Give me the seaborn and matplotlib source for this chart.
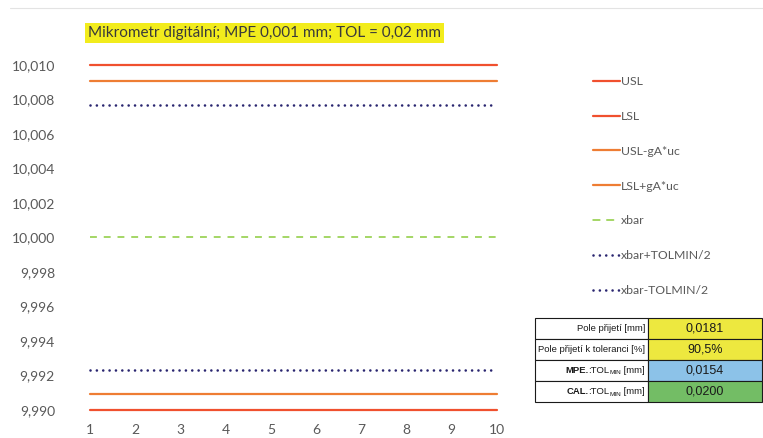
import matplotlib
matplotlib.use("Agg")
import matplotlib.pyplot as plt
from matplotlib.patches import Rectangle
from matplotlib.lines import Line2D
from matplotlib.ticker import FuncFormatter, FixedLocator
import numpy as np
import pandas as pd
import seaborn as sns

# Measurement index
samples = [1, 2, 3, 4, 5, 6, 7, 8, 9, 10]

# Limits and acceptance zone (mm)
usl = [10.010, 10.010, 10.010, 10.010, 10.010, 10.010, 10.010, 10.010, 10.010, 10.010]
lsl = [9.990, 9.990, 9.990, 9.990, 9.990, 9.990, 9.990, 9.990, 9.990, 9.990]
usl_guard = [10.00905, 10.00905, 10.00905, 10.00905, 10.00905, 10.00905, 10.00905, 10.00905, 10.00905, 10.00905]
lsl_guard = [9.99095, 9.99095, 9.99095, 9.99095, 9.99095, 9.99095, 9.99095, 9.99095, 9.99095, 9.99095]
xbar = [10.000, 10.000, 10.000, 10.000, 10.000, 10.000, 10.000, 10.000, 10.000, 10.000]
xbar_plus = [10.0077, 10.0077, 10.0077, 10.0077, 10.0077, 10.0077, 10.0077, 10.0077, 10.0077, 10.0077]
xbar_minus = [9.9923, 9.9923, 9.9923, 9.9923, 9.9923, 9.9923, 9.9923, 9.9923, 9.9923, 9.9923]

series_names = ["USL", "LSL", "USL-gA*uc", "LSL+gA*uc", "xbar", "xbar+TOLMIN/2", "xbar-TOLMIN/2"]
series_values = [usl, lsl, usl_guard, lsl_guard, xbar, xbar_plus, xbar_minus]

y_ticks = [9.990, 9.992, 9.994, 9.996, 9.998, 10.000, 10.002, 10.004, 10.006, 10.008, 10.010]

title_text = "Mikrometr digitální; MPE 0,001 mm; TOL = 0,02 mm"

# Table rows: plain label, or (bold prefix, rest, subscript, suffix)
table_labels = ["Pole přijetí [mm]", "Pole přijetí k toleranci [%]",
                ("MPE.", ":TOL", "MIN", " [mm]"),
                ("CAL.", ":TOL", "MIN", " [mm]")]
table_values = ["0,0181", "90,5%", "0,0154", "0,0200"]
table_colors = ["#EDE83F", "#EDE83F", "#8CC2E8", "#73BD65"]

sns.set_theme(style="white")
plt.rcParams["font.family"] = ["Lato", "DejaVu Sans"]

dot_style = (0, (0.01, 2.4))
styles = {
    "USL": dict(color="#F0502E", lw=1.6, ls="-"),
    "LSL": dict(color="#F0502E", lw=1.6, ls="-"),
    "USL-gA*uc": dict(color="#EE7D33", lw=1.6, ls="-"),
    "LSL+gA*uc": dict(color="#EE7D33", lw=1.6, ls="-"),
    "xbar": dict(color="#8CCB3C", lw=1.1, ls=(0, (4.5, 4.5))),
    "xbar+TOLMIN/2": dict(color="#2A2670", lw=1.9, ls=dot_style),
    "xbar-TOLMIN/2": dict(color="#2A2670", lw=1.9, ls=dot_style),
}

df = pd.DataFrame({"sample": np.tile(samples, len(series_names)),
                   "value": np.concatenate(series_values),
                   "series": np.repeat(series_names, len(samples))})

fig = plt.figure(figsize=(7.63, 4.38), dpi=100)
fig.patch.set_facecolor("white")
ax = fig.add_axes([80 / 763, 0.0443, 430 / 763, 0.8546])

for name in series_names:
    st = styles[name]
    sub = df[df["series"] == name]
    sns.lineplot(data=sub, x="sample", y="value", ax=ax, color=st["color"],
                 linewidth=st["lw"], linestyle=st["ls"], legend=False,
                 dash_capstyle="round" if "TOLMIN" in name else "butt")

ax.set_xlim(0.78, 10.29)
ax.set_ylim(9.9895, 10.0112)
ax.yaxis.set_major_locator(FixedLocator(y_ticks))
ax.xaxis.set_major_locator(FixedLocator(samples))
ax.yaxis.set_major_formatter(FuncFormatter(lambda v, p: f"{v:.3f}".replace(".", ",")))
ax.set_xlabel("")
ax.set_ylabel("")
for s in ax.spines.values():
    s.set_visible(False)
ax.grid(False)
ax.tick_params(axis="y", colors="#595959", labelsize=10, length=0, pad=18)
ax.tick_params(axis="x", colors="#595959", labelsize=10, length=0, pad=4)
ax.set_facecolor("none")

# Title with highlighted background
fig.text(88 / 763, 1 - 33 / 438, title_text, fontsize=11, color="#3A3A3A",
         va="center", ha="left",
         bbox=dict(boxstyle="square,pad=0.2", facecolor="#F2EC1C", edgecolor="none"))

# Light frame line at the top of the chart area
fig.add_artist(Line2D([10 / 763, 1.0], [1 - 8 / 438, 1 - 8 / 438],
                      color="#E3E3E3", lw=0.8, transform=fig.transFigure))

# Legend
handles = []
for name in series_names:
    st = styles[name]
    handles.append(Line2D([], [], color=st["color"], lw=st["lw"], linestyle=st["ls"],
                          dash_capstyle="round"))
leg = fig.legend(handles, series_names, loc="upper left",
                 bbox_to_anchor=(582 / 763, 1 - 65 / 438), frameon=False,
                 fontsize=8.8, handlelength=2.2, handletextpad=0.05,
                 labelspacing=1.95, labelcolor="#595959")

# Summary table
x0, x1, x2 = 535, 648, 762
row_tops = [318, 339, 360, 381]
row_h = 21
W, H = 763.0, 438.0
fig.canvas.draw()
renderer = fig.canvas.get_renderer()


def text_width(t):
    return t.get_window_extent(renderer).width


for i, (lab, val, col) in enumerate(zip(table_labels, table_values, table_colors)):
    top = row_tops[i]
    yb = 1 - (top + row_h) / H
    fig.add_artist(Rectangle((x0 / W, yb), (x1 - x0) / W, row_h / H,
                             transform=fig.transFigure, facecolor="white",
                             edgecolor="#1A1A1A", lw=0.8))
    fig.add_artist(Rectangle((x1 / W, yb), (x2 - x1) / W, row_h / H,
                             transform=fig.transFigure, facecolor=col,
                             edgecolor="#1A1A1A", lw=0.8))
    yc = 1 - (top + row_h / 2) / H
    if isinstance(lab, str):
        fig.text((x1 - 3) / W, yc, lab, ha="right", va="center", fontsize=6.8,
                 family="Liberation Sans", color="#1A1A1A")
    else:
        bold, rest, sub, suffix = lab
        # lay pieces out right to left
        xr = x1 - 3
        t = fig.text(xr / W, yc, suffix, ha="right", va="center", fontsize=6.8,
                     family="Liberation Sans", color="#1A1A1A")
        xr -= text_width(t)
        t = fig.text(xr / W, yc - 2.5 / H, sub, ha="right", va="center", fontsize=4.6,
                     family="Liberation Sans", color="#1A1A1A")
        xr -= text_width(t)
        t = fig.text(xr / W, yc, rest, ha="right", va="center", fontsize=6.8,
                     family="Liberation Sans", color="#1A1A1A")
        xr -= text_width(t)
        fig.text(xr / W, yc, bold, ha="right", va="center", fontsize=6.8,
                 family="Liberation Sans", weight="bold", color="#1A1A1A")
    fig.text((x1 + x2) / 2 / W, yc, val, ha="center", va="center", fontsize=9,
             family="Liberation Sans", color="#1A1A1A")

fig.savefig("out.png", dpi=100)
